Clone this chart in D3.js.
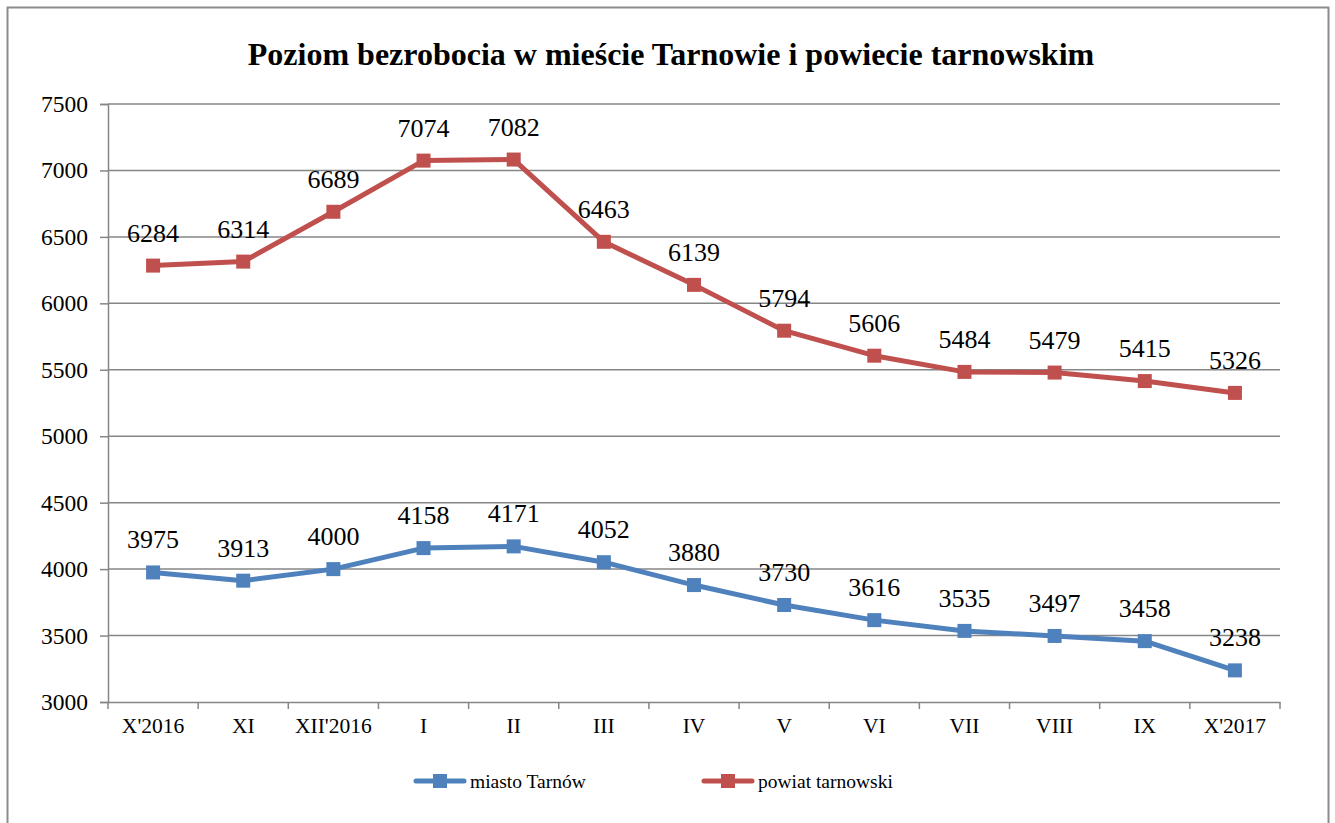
<!DOCTYPE html>
<html lang="pl">
<head>
  <meta charset="UTF-8">
  <title>Poziom bezrobocia</title>
  <script src="https://d3js.org/d3.v7.min.js"></script>
  <style>
    body { margin: 0; background: #fff; }
    text { font-family: "Liberation Serif", "Times New Roman", serif; fill: #000; }
  </style>
</head>
<body>
  <script>
    "use strict";
    // data
    var months = ["X'2016", "XI", "XII'2016", "I", "II", "III", "IV", "V", "VI", "VII", "VIII", "IX", "X'2017"];
    var miasto = [3975, 3913, 4000, 4158, 4171, 4052, 3880, 3730, 3616, 3535, 3497, 3458, 3238];
    var powiat = [6284, 6314, 6689, 7074, 7082, 6463, 6139, 5794, 5606, 5484, 5479, 5415, 5326];
    var yTicks = [3000, 3500, 4000, 4500, 5000, 5500, 6000, 6500, 7000, 7500];

    var series = [
      { name: "miasto Tarnów", values: miasto, color: "#4F81BD" },
      { name: "powiat tarnowski", values: powiat, color: "#C0504D" }
    ];

    var W = 1335, H = 823;
    var plotLeft = 108, plotRight = 1280, plotTop = 104, plotBottom = 702;

    var svg = d3.select('body').append('svg')
      .attr('width', W)
      .attr('height', H);

    // outer frame (bottom edge is cut off)
    svg.append('path')
      .attr('d', 'M7.5,' + (H + 5) + 'V7.5H1328.5V' + (H + 5))
      .attr('fill', 'none')
      .attr('stroke', '#8c8c8c')
      .attr('stroke-width', 2);

    svg.append('text')
      .attr('x', 671)
      .attr('y', 65)
      .attr('text-anchor', 'middle')
      .attr('font-size', '32px')
      .attr('font-weight', 'bold')
      .text('Poziom bezrobocia w mieście Tarnowie i powiecie tarnowskim');

    var x = d3.scaleBand().domain(months).range([plotLeft, plotRight]);
    var y = d3.scaleLinear().domain([3000, 7500]).range([plotBottom, plotTop]);

    // gridlines
    svg.append('g')
      .selectAll('line')
      .data(yTicks.slice(1))
      .enter().append('line')
      .attr('x1', plotLeft).attr('x2', plotRight)
      .attr('y1', function (d) { return y(d); })
      .attr('y2', function (d) { return y(d); })
      .attr('stroke', '#868686')
      .attr('stroke-width', 1.5);

    // y axis
    var yAxis = svg.append('g')
      .attr('transform', 'translate(' + plotLeft + ',0)')
      .call(d3.axisLeft(y).tickValues(yTicks).tickSize(8).tickPadding(12).tickFormat(d3.format('d')));
    yAxis.selectAll('text').attr('font-size', '23.5px');

    // x axis with ticks at category boundaries
    var xAxis = svg.append('g')
      .attr('transform', 'translate(0,' + plotBottom + ')')
      .call(d3.axisBottom(x).tickSize(0).tickPadding(16));
    xAxis.selectAll('text').attr('font-size', '21.5px');
    xAxis.append('g')
      .selectAll('line')
      .data(months.concat(['end']))
      .enter().append('line')
      .attr('x1', function (d, i) { return plotLeft + i * x.step(); })
      .attr('x2', function (d, i) { return plotLeft + i * x.step(); })
      .attr('y1', 0).attr('y2', 7);

    svg.selectAll('.domain, .tick line').attr('stroke', '#868686').attr('stroke-width', 1.5);
    xAxis.selectAll('line').attr('stroke', '#868686').attr('stroke-width', 1.5);

    var line = d3.line()
      .x(function (d, i) { return x(months[i]) + x.bandwidth() / 2; })
      .y(function (d) { return y(d); });

    series.forEach(function (s) {
      var g = svg.append('g');
      g.append('path')
        .datum(s.values)
        .attr('fill', 'none')
        .attr('stroke', s.color)
        .attr('stroke-width', 5)
        .attr('stroke-linejoin', 'round')
        .attr('stroke-linecap', 'round')
        .attr('d', line);
      g.selectAll('rect')
        .data(s.values)
        .enter().append('rect')
        .attr('x', function (d, i) { return x(months[i]) + x.bandwidth() / 2 - 7; })
        .attr('y', function (d) { return y(d) - 7; })
        .attr('width', 14)
        .attr('height', 14)
        .attr('fill', s.color);
      g.selectAll('text')
        .data(s.values)
        .enter().append('text')
        .attr('x', function (d, i) { return x(months[i]) + x.bandwidth() / 2; })
        .attr('y', function (d) { return y(d) - 24; })
        .attr('text-anchor', 'middle')
        .attr('font-size', '26px')
        .text(function (d) { return d; });
    });

    // legend
    var legend = svg.append('g')
      .selectAll('g')
      .data(series)
      .enter().append('g')
      .attr('transform', function (d, i) { return 'translate(' + (416 + i * 288) + ',781)'; });
    legend.append('line')
      .attr('x1', 0).attr('x2', 48)
      .attr('stroke', function (d) { return d.color; })
      .attr('stroke-width', 5)
      .attr('stroke-linecap', 'round');
    legend.append('rect')
      .attr('x', 17).attr('y', -7)
      .attr('width', 14).attr('height', 14)
      .attr('fill', function (d) { return d.color; });
    legend.append('text')
      .attr('x', 54)
      .attr('y', 7)
      .attr('font-size', '19.5px')
      .text(function (d) { return d.name; });
  </script>
</body>
</html>
